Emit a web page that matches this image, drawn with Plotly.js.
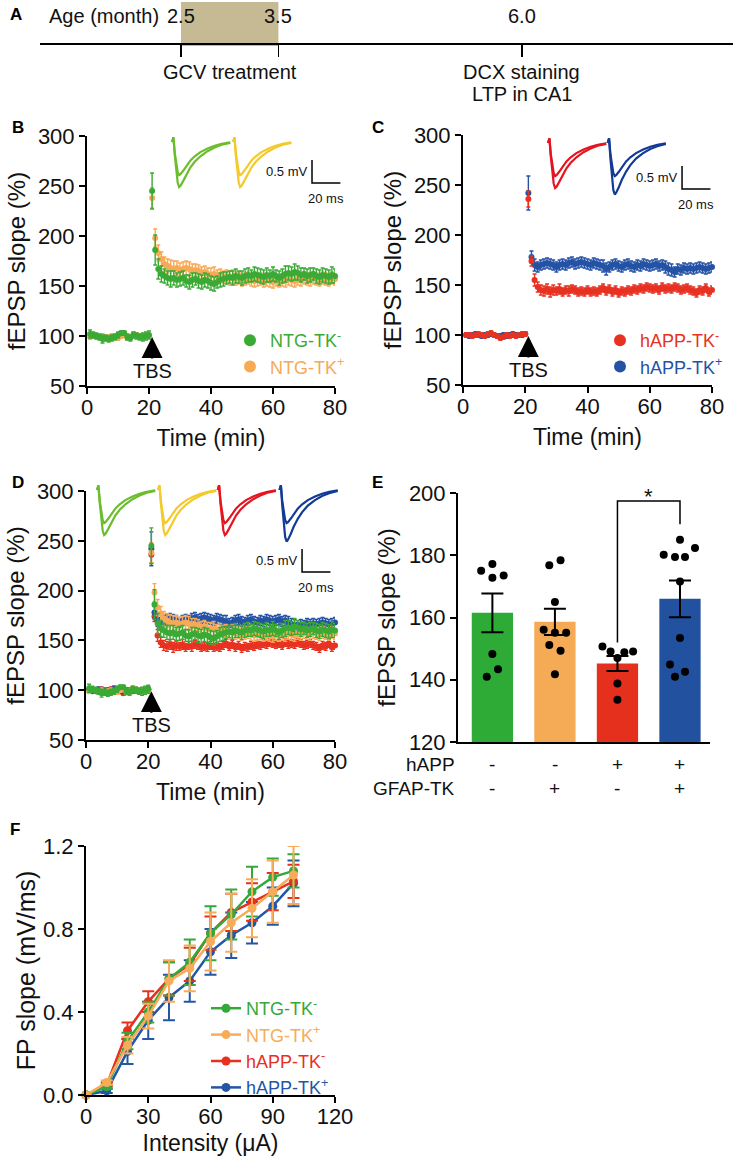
<!DOCTYPE html>
<html>
<head>
<meta charset="utf-8">
<script src="https://cdn.plot.ly/plotly-3.0.1.min.js"></script>
<style>
  html, body { margin: 0; padding: 0; background: #fff; }
  #fig { width: 733px; height: 1161px; }
</style>
</head>
<body>
<div id="fig"></div>
<script>
// ---- data ----
// A: timeline (months)
var ages = [2.5, 3.5, 6.0];
var ageLabels = ['2.5', '3.5', '6.0'];

// B-D: LTP time course, fEPSP slope (% of baseline)
var baseTime = [1, 2, 3, 4, 5, 6, 7, 8, 9, 10, 11, 12, 13, 14, 15, 16, 17, 18, 19, 20];
var postTime = [21, 22, 23, 24, 25, 26, 27, 28, 29, 30, 31, 32, 33, 34, 35, 36, 37, 38, 39, 40,
                41, 42, 43, 44, 45, 46, 47, 48, 49, 50, 51, 52, 53, 54, 55, 56, 57, 58, 59, 60,
                61, 62, 63, 64, 65, 66, 67, 68, 69, 70, 71, 72, 73, 74, 75, 76, 77, 78, 79, 80];

var ntgMinusBase = [102, 101, 100, 99, 97, 98, 97, 98, 99, 101, 103, 103, 99, 98, 101, 100, 99, 99, 100, 101];
var ntgMinusPost = [245, 186, 167, 162, 160, 158, 157, 158, 156, 157, 158, 155, 154, 156, 157, 155, 154, 156, 155, 153,
                    152, 154, 156, 157, 158, 159, 158, 160, 159, 158, 160, 161, 160, 162, 161, 160, 159, 161, 160, 162,
                    160, 158, 160, 162, 163, 162, 164, 163, 161, 162, 160, 161, 162, 160, 159, 161, 160, 159, 161, 160];
var ntgMinusBaseErr = [4, 3, 3, 3, 4, 3, 3, 3, 3, 3, 2, 2, 3, 3, 3, 3, 3, 4, 4, 4];
var ntgMinusPostErr = [18, 15, 10, 8, 7, 7, 8, 7, 7, 7, 7, 6, 7, 7, 6, 7, 7, 7, 7, 7,
                       7, 6, 7, 7, 6, 6, 7, 7, 6, 7, 7, 7, 6, 7, 7, 7, 7, 7, 6, 7,
                       6, 7, 7, 8, 7, 7, 8, 7, 7, 6, 7, 7, 6, 7, 7, 7, 7, 7, 8, 7];

var ntgPlusBase = [99, 101, 100, 99, 100, 98, 99, 100, 99, 98, 100, 101, 98, 99, 102, 101, 100, 99, 101, 100];
var ntgPlusPost = [238, 198, 183, 177, 172, 170, 168, 167, 168, 166, 167, 168, 167, 165, 166, 165, 163, 164, 162, 161,
                   162, 160, 161, 159, 160, 158, 159, 157, 158, 156, 157, 158, 156, 155, 156, 157, 155, 156, 155, 154,
                   156, 155, 156, 155, 157, 156, 155, 157, 156, 158, 157, 156, 158, 157, 156, 158, 157, 156, 158, 157];
var ntgPlusBaseErr = [2, 2, 2, 2, 2, 2, 2, 2, 2, 2, 2, 2, 2, 2, 2, 2, 2, 2, 2, 2];
var ntgPlusPostErr = [10, 9, 8, 7, 7, 7, 8, 8, 7, 7, 7, 7, 7, 7, 6, 6, 6, 6, 6, 7,
                      7, 6, 6, 6, 6, 7, 7, 6, 6, 6, 6, 6, 6, 6, 6, 6, 6, 6, 6, 6,
                      6, 6, 6, 6, 6, 6, 6, 6, 6, 6, 6, 6, 6, 6, 6, 6, 6, 6, 6, 6];

var happMinusBase = [100, 100, 99, 100, 101, 100, 99, 101, 102, 100, 99, 97, 98, 100, 99, 100, 99, 100, 101, 101];
var happMinusPost = [236, 174, 155, 148, 145, 144, 146, 143, 145, 144, 146, 143, 145, 144, 146, 145, 143, 144, 143, 145,
                     143, 144, 143, 145, 147, 144, 146, 143, 145, 142, 144, 143, 145, 144, 146, 145, 147, 146, 148, 147,
                     146, 147, 145, 148, 146, 147, 146, 148, 147, 145, 146, 147, 145, 144, 142, 145, 144, 147, 143, 145];
var happMinusBaseErr = [2, 2, 2, 2, 2, 2, 2, 2, 2, 2, 2, 2, 2, 2, 2, 2, 2, 2, 2, 2];
var happMinusPostErr = [8, 5, 6, 5, 5, 5, 5, 5, 5, 4, 5, 4, 4, 5, 4, 4, 4, 4, 4, 4,
                        4, 4, 4, 4, 4, 4, 4, 4, 4, 4, 4, 4, 4, 4, 4, 4, 4, 4, 4, 4,
                        4, 4, 4, 4, 4, 4, 4, 4, 4, 4, 4, 4, 4, 4, 4, 4, 4, 4, 4, 4];

var happPlusBase = [100, 99, 100, 101, 100, 99, 100, 100, 101, 100, 99, 99, 100, 99, 100, 101, 100, 100, 100, 101];
var happPlusPost = [242, 178, 170, 168, 170, 171, 172, 171, 170, 168, 170, 171, 170, 172, 173, 171, 172, 173, 172, 171,
                    170, 172, 171, 170, 169, 166, 168, 170, 171, 169, 168, 170, 171, 169, 168, 170, 169, 171, 170, 169,
                    170, 171, 169, 170, 168, 166, 165, 163, 166, 165, 167, 166, 167, 166, 167, 168, 167, 166, 167, 168];
var happPlusBaseErr = [2, 2, 2, 2, 2, 2, 2, 2, 2, 2, 2, 2, 2, 2, 2, 2, 2, 2, 2, 2];
var happPlusPostErr = [17, 6, 6, 5, 5, 5, 5, 5, 5, 5, 5, 5, 5, 5, 5, 5, 5, 5, 5, 5,
                       5, 5, 5, 5, 6, 6, 5, 5, 5, 5, 5, 5, 5, 5, 5, 5, 5, 5, 5, 5,
                       5, 5, 5, 5, 6, 6, 6, 5, 5, 5, 5, 5, 5, 5, 5, 5, 5, 5, 5, 5];

// example fEPSP traces (ms, mV)
var waveT = [0, 1, 2, 3, 4, 5, 6, 8, 10, 13, 16, 20, 25, 30, 35, 41];
var waveBase = [0, 0.1, -0.25, -0.5, -0.65, -0.72, -0.7, -0.62, -0.52, -0.4, -0.31, -0.22, -0.14, -0.08, -0.04, -0.01];
var waveLtp = [0, 0.1, -0.3, -0.65, -0.88, -0.98, -0.95, -0.84, -0.71, -0.55, -0.43, -0.31, -0.2, -0.12, -0.06, -0.02];
var waveLtpDeep = [0, 0.1, -0.35, -0.75, -1.02, -1.12, -1.08, -0.95, -0.8, -0.62, -0.48, -0.34, -0.22, -0.13, -0.07, -0.02];
var scaleMs = 20, scaleMv = 0.5;

// E: LTP magnitude per group
var groups = [0, 1, 2, 3];
var groupMeans = [161.5, 158.6, 145.2, 166.0];
var groupSem = [6.2, 4.2, 2.4, 5.9];
var happSigns = ['-', '-', '+', '+'];
var gfapSigns = ['-', '+', '-', '+'];
var dotsNtgMinus = [175.0, 177.2, 172.8, 173.5, 148.3, 143.4, 141.0];
var offNtgMinus = [-0.18, 0, 0, 0.18, 0, 0.09, -0.09];
var dotsNtgPlus = [176.8, 178.4, 165.0, 156.1, 155.1, 155.1, 151.2, 149.3, 141.8];
var offNtgPlus = [-0.09, 0.09, 0, -0.18, 0, 0.18, -0.09, 0.09, 0];
var dotsHappMinus = [150.7, 149.1, 147.0, 148.8, 149.1, 138.8, 133.6];
var offHappMinus = [-0.24, -0.11, 0, 0.11, 0.25, 0, 0];
var dotsHappPlus = [185.0, 180.2, 179.4, 179.4, 182.3, 171.6, 153.4, 144.9, 141.0, 142.6];
var offHappPlus = [0, -0.26, -0.08, 0.08, 0.24, 0, 0, -0.16, -0.08, 0.08];
var sigPair = [2, 3];
var sigLevels = [152, 197.4, 190];

// F: input-output curves
var intensity = [0, 10, 20, 30, 40, 50, 60, 70, 80, 90, 100];
var ioNtgMinus = [0, 0.04, 0.26, 0.40, 0.56, 0.64, 0.78, 0.87, 0.98, 1.05, 1.08];
var ioNtgMinusErr = [0, 0.01, 0.04, 0.05, 0.08, 0.11, 0.13, 0.12, 0.12, 0.09, 0.08];
var ioNtgPlus = [0, 0.06, 0.24, 0.38, 0.55, 0.61, 0.74, 0.83, 0.90, 0.98, 1.06];
var ioNtgPlusErr = [0, 0.01, 0.04, 0.06, 0.10, 0.11, 0.14, 0.14, 0.14, 0.15, 0.14];
var ioHappMinus = [0, 0.05, 0.31, 0.45, 0.56, 0.63, 0.78, 0.88, 0.93, 0.98, 1.03];
var ioHappMinusErr = [0, 0.01, 0.04, 0.05, 0.08, 0.08, 0.08, 0.09, 0.09, 0.09, 0.08];
var ioHappPlus = [0, 0.02, 0.21, 0.36, 0.47, 0.55, 0.69, 0.77, 0.83, 0.91, 1.02];
var ioHappPlusErr = [0, 0.01, 0.06, 0.09, 0.11, 0.10, 0.11, 0.11, 0.10, 0.09, 0.11];

// ---- drawing ----
var W = 733, H = 1161;
var FONT = 'Liberation Sans, Arial, Helvetica, sans-serif';
function fx(p) { return p / W; }
function fy(p) { return 1 - p / H; }
function dx(a, b) { return [fx(a), fx(b)]; }
function dy(top, bot) { return [fy(bot), fy(top)]; }

var colTime = { ntgMinus: '#3aaa35', ntgPlus: '#f8a955', happMinus: '#e73222', happPlus: '#2452a5' };
var colBar = ['#2eaa37', '#f5aa55', '#e4301c', '#2251a0'];
var colWave = { green: '#6bbd2c', yellow: '#f4c92a', red: '#e5141f', blue: '#133b96' };

function label(txt, color) {
  return '<span style="color:' + color + '">' + txt + '</span>';
}

var data = [];

function timeSeries(xa, ya, base, post, baseErr, postErr, color, name, legend, rank) {
  data.push({
    type: 'scatter', mode: 'markers',
    x: baseTime.concat(postTime), y: base.concat(post),
    error_y: { type: 'data', array: baseErr.concat(postErr), color: color, thickness: 1.4, width: 2 },
    marker: { color: color, size: 6 },
    xaxis: xa, yaxis: ya, cliponaxis: false,
    name: name ? label(name, color) : '',
    showlegend: !!legend, legend: legend || 'legend', legendrank: rank || 1000,
    hoverinfo: 'x+y'
  });
}

// B
timeSeries('x2', 'y2', ntgPlusBase, ntgPlusPost, ntgPlusBaseErr, ntgPlusPostErr, colTime.ntgPlus, 'NTG-TK<sup>+</sup>', 'legend', 2);
timeSeries('x2', 'y2', ntgMinusBase, ntgMinusPost, ntgMinusBaseErr, ntgMinusPostErr, colTime.ntgMinus, 'NTG-TK<sup>-</sup>', 'legend', 1);
// C
timeSeries('x3', 'y3', happPlusBase, happPlusPost, happPlusBaseErr, happPlusPostErr, colTime.happPlus, 'hAPP-TK<sup>+</sup>', 'legend2', 2);
timeSeries('x3', 'y3', happMinusBase, happMinusPost, happMinusBaseErr, happMinusPostErr, colTime.happMinus, 'hAPP-TK<sup>-</sup>', 'legend2', 1);
// D
timeSeries('x4', 'y4', happMinusBase, happMinusPost, happMinusBaseErr, happMinusPostErr, colTime.happMinus);
timeSeries('x4', 'y4', happPlusBase, happPlusPost, happPlusBaseErr, happPlusPostErr, colTime.happPlus);
timeSeries('x4', 'y4', ntgPlusBase, ntgPlusPost, ntgPlusBaseErr, ntgPlusPostErr, colTime.ntgPlus);
timeSeries('x4', 'y4', ntgMinusBase, ntgMinusPost, ntgMinusBaseErr, ntgMinusPostErr, colTime.ntgMinus);

// example traces in the insets
function wave(xa, ya, shift, color, deep) {
  [waveBase, deep || waveLtp].forEach(function (v) {
    data.push({
      type: 'scatter', mode: 'lines', x: waveT.map(function (t) { return t + shift; }), y: v,
      line: { color: color, width: 2.2 }, xaxis: xa, yaxis: ya, showlegend: false, hoverinfo: 'skip'
    });
  });
}
function scaleBar(xa, ya, t, v) {
  data.push({
    type: 'scatter', mode: 'lines', x: [t, t, t + scaleMs], y: [v, v - scaleMv, v - scaleMv],
    line: { color: '#000', width: 1.5 }, xaxis: xa, yaxis: ya, showlegend: false, hoverinfo: 'skip'
  });
}
wave('x7', 'y7', 0, colWave.green);
wave('x7', 'y7', 43, colWave.yellow);
scaleBar('x7', 'y7', 98.6, -0.39);
wave('x8', 'y8', 0, colWave.red);
wave('x8', 'y8', 42, colWave.blue, waveLtpDeep);
scaleBar('x8', 'y8', 94.4, -0.5);
wave('x9', 'y9', 0, colWave.green);
wave('x9', 'y9', 43, colWave.yellow);
wave('x9', 'y9', 85, colWave.red);
wave('x9', 'y9', 128.5, colWave.blue, waveLtpDeep);
scaleBar('x9', 'y9', 144.4, -1.28);

// E
data.push({
  type: 'bar', x: groups, y: groupMeans, width: 0.66,
  marker: { color: colBar, line: { width: 0 } },
  error_y: { type: 'data', array: groupSem, color: '#000', thickness: 2, width: 11 },
  xaxis: 'x5', yaxis: 'y5', showlegend: false
});
var dotX = [], dotY = [];
[[dotsNtgMinus, offNtgMinus], [dotsNtgPlus, offNtgPlus], [dotsHappMinus, offHappMinus], [dotsHappPlus, offHappPlus]]
  .forEach(function (g, i) {
    g[0].forEach(function (v, j) { dotX.push(groups[i] + g[1][j]); dotY.push(v); });
  });
data.push({
  type: 'scatter', mode: 'markers', x: dotX, y: dotY,
  marker: { color: '#000', size: 8 }, xaxis: 'x5', yaxis: 'y5', showlegend: false, cliponaxis: false
});
data.push({
  type: 'scatter', mode: 'lines',
  x: [sigPair[0], sigPair[0], sigPair[1], sigPair[1]],
  y: [sigLevels[0], sigLevels[1], sigLevels[1], sigLevels[2]],
  line: { color: '#000', width: 1.5 }, xaxis: 'x5', yaxis: 'y5', showlegend: false, hoverinfo: 'skip', cliponaxis: false
});

// F
function ioSeries(y, err, color, name, rank) {
  data.push({
    type: 'scatter', mode: 'lines+markers', x: intensity, y: y,
    error_y: { type: 'data', array: err, color: color, thickness: 2, width: 6 },
    line: { color: color, width: 2.5 }, marker: { color: color, size: 9 },
    xaxis: 'x6', yaxis: 'y6', cliponaxis: false,
    name: label(name, color), legend: 'legend3', legendrank: rank
  });
}
ioSeries(ioHappPlus, ioHappPlusErr, '#2356a6', 'hAPP-TK<sup>+</sup>', 4);
ioSeries(ioHappMinus, ioHappMinusErr, '#e8301f', 'hAPP-TK<sup>-</sup>', 3);
ioSeries(ioNtgMinus, ioNtgMinusErr, '#34a93a', 'NTG-TK<sup>-</sup>', 1);
ioSeries(ioNtgPlus, ioNtgPlusErr, '#f7ac5a', 'NTG-TK<sup>+</sup>', 2);

// ---- axes ----
function ax(extra) {
  var base = {
    showline: true, linecolor: '#000', linewidth: 2, ticks: 'outside', ticklen: 6, tickwidth: 2,
    tickcolor: '#000', showgrid: false, zeroline: false, fixedrange: true,
    tickfont: { family: FONT, size: 22, color: '#111' }
  };
  for (var k in extra) base[k] = extra[k];
  return base;
}
function ttl(text, standoff, size) {
  return { text: text, font: { family: FONT, size: size || 24, color: '#111' }, standoff: standoff };
}
var SX = 1.42, SY = 46; // inset px per ms / per mV
function insetX(ox, t0, t1, anchor) {
  return { domain: dx(ox + t0 * SX, ox + t1 * SX), range: [t0, t1], visible: false, anchor: anchor, fixedrange: true };
}
function insetY(oy, v0, v1, anchor) {
  return { domain: dy(oy - v1 * SY, oy - v0 * SY), range: [v0, v1], visible: false, anchor: anchor, fixedrange: true };
}

var timeTicks = [0, 20, 40, 60, 80];
var ageMin = 2.5 - (181 - 40) / 97.4, ageMax = 2.5 + (733 - 181) / 97.4;

var layout = {
  width: W, height: H, margin: { l: 0, r: 0, t: 0, b: 0 },
  paper_bgcolor: '#fff', plot_bgcolor: 'rgba(0,0,0,0)',
  font: { family: FONT, color: '#111' },
  hovermode: false,
  xaxis: ax({ domain: dx(40, 733), range: [ageMin, ageMax], anchor: 'y', tickvals: ages,
              showticklabels: false, ticklen: 12, tickwidth: 1.5, linewidth: 1.5 }),
  yaxis: { domain: dy(2, 43), range: [0, 1], visible: false, anchor: 'x', fixedrange: true },

  xaxis2: ax({ domain: dx(87, 335), range: [0, 80], tickvals: timeTicks, anchor: 'y2', ticklabelstandoff: -5, title: ttl('Time (min)', 10, 23) }),
  yaxis2: ax({ domain: dy(136, 386), range: [50, 300], dtick: 50, anchor: 'x2', title: ttl('fEPSP slope (%)', 5) }),
  xaxis3: ax({ domain: dx(463, 712), range: [0, 80], tickvals: timeTicks, anchor: 'y3', ticklabelstandoff: -5, title: ttl('Time (min)', 10, 23) }),
  yaxis3: ax({ domain: dy(135, 385), range: [50, 300], dtick: 50, anchor: 'x3', title: ttl('fEPSP slope (%)', 5) }),
  xaxis4: ax({ domain: dx(86, 335), range: [0, 80], tickvals: timeTicks, anchor: 'y4', ticklabelstandoff: -5, title: ttl('Time (min)', 10, 23) }),
  yaxis4: ax({ domain: dy(491, 740), range: [50, 300], dtick: 50, anchor: 'x4', title: ttl('fEPSP slope (%)', 5) }),
  xaxis5: ax({ domain: dx(458, 710), range: [-0.55, 3.48], anchor: 'y5', ticks: '', showticklabels: false }),
  yaxis5: ax({ domain: dy(493, 742), range: [120, 200], dtick: 20, anchor: 'x5', title: ttl('fEPSP slope (%)', 6) }),
  xaxis6: ax({ domain: dx(86, 335), range: [0, 120], dtick: 30, anchor: 'y6', ticklabelstandoff: -5, title: ttl('Intensity (\u03bcA)', 6, 23) }),
  yaxis6: ax({ domain: dy(846, 1095), range: [0, 1.2], dtick: 0.4, tickformat: '.1f', anchor: 'x6', title: ttl('FP slope (mV/ms)', 0, 25) }),

  xaxis7: insetX(172, -5, 125, 'y7'), yaxis7: insetY(142, -1.3, 0.15, 'x7'),
  xaxis8: insetX(548, -5, 125, 'y8'), yaxis8: insetY(143, -1.45, 0.15, 'x8'),
  xaxis9: insetX(97, -5, 170, 'y9'), yaxis9: insetY(490, -2.3, 0.15, 'x9'),

  legend: { x: fx(230), y: fy(322), xanchor: 'left', yanchor: 'top', bgcolor: 'rgba(0,0,0,0)',
            font: { family: FONT, size: 18 }, itemwidth: 30, tracegroupgap: 0, itemsizing: 'constant' },
  legend2: { x: fx(600), y: fy(322), xanchor: 'left', yanchor: 'top', bgcolor: 'rgba(0,0,0,0)',
             font: { family: FONT, size: 18 }, itemwidth: 30, tracegroupgap: 0, itemsizing: 'constant' },
  legend3: { x: fx(206), y: fy(990), xanchor: 'left', yanchor: 'top', bgcolor: 'rgba(0,0,0,0)',
             font: { family: FONT, size: 18 }, itemwidth: 30, tracegroupgap: 0 },

  shapes: [
    { type: 'rect', xref: 'x', yref: 'paper', x0: ages[0], x1: ages[1], y0: fy(46), y1: fy(2),
      fillcolor: '#c5ba93', line: { width: 0 }, layer: 'below' }
  ],
  annotations: []
};

var ann = layout.annotations;
function text(t, x, y, opts) {
  var a = { text: t, x: x, y: y, xref: 'paper', yref: 'paper', showarrow: false,
            xanchor: 'center', yanchor: 'middle',
            font: { family: FONT, size: 20, color: '#111' } };
  for (var k in opts) a[k] = opts[k];
  ann.push(a);
}

// panel letters
[['A', 8, 15], ['B', 10, 128], ['C', 370, 128], ['D', 10, 482], ['E', 370, 482], ['F', 8, 830]].forEach(function (p) {
  text('<b>' + p[0] + '</b>', fx(p[1]), fy(p[2]), { xanchor: 'left', font: { family: FONT, size: 17, color: '#000' } });
});

// A labels
text('Age (month)', fx(161), fy(16), { xanchor: 'right' });
ages.forEach(function (a, i) { text(ageLabels[i], a, fy(16), { xref: 'x' }); });
text('GCV treatment', (ages[0] + ages[1]) / 2, fy(72), { xref: 'x' });
text('DCX staining', ages[2], fy(72), { xref: 'x' });
text('LTP in CA1', ages[2], fy(94), { xref: 'x' });

// TBS arrows
[['x2', 'y2'], ['x3', 'y3'], ['x4', 'y4']].forEach(function (p) {
  ann.push({ text: 'TBS', x: 21, y: 99, xref: p[0], yref: p[1], showarrow: true, ax: 0, ay: 34,
             arrowhead: 2, arrowsize: 1.9, arrowwidth: 2.2, arrowcolor: '#000', standoff: 0,
             font: { family: FONT, size: 20, color: '#111' } });
});

// inset scale-bar labels
function sbLabels(xa, ya, t, v) {
  ann.push({ text: '0.5 mV', x: t - 1.5, y: v - scaleMv / 2, xref: xa, yref: ya, xanchor: 'right', yanchor: 'middle',
             showarrow: false, font: { family: FONT, size: 13, color: '#111' } });
  ann.push({ text: '20 ms', x: t + scaleMs / 2, y: v - scaleMv - 0.33, xref: xa, yref: ya, xanchor: 'center', yanchor: 'middle',
             showarrow: false, font: { family: FONT, size: 13, color: '#111' } });
}
sbLabels('x7', 'y7', 98.6, -0.39);
sbLabels('x8', 'y8', 94.4, -0.5);
sbLabels('x9', 'y9', 144.4, -1.28);

// E labels
text('hAPP', fx(457), fy(765), { xanchor: 'right', font: { family: FONT, size: 19, color: '#111' } });
text('GFAP-TK', fx(457), fy(788), { xanchor: 'right', font: { family: FONT, size: 19, color: '#111' } });
groups.forEach(function (g, i) {
  text(happSigns[i], g, fy(765), { xref: 'x5', font: { family: FONT, size: 19, color: '#111' } });
  text(gfapSigns[i], g, fy(788), { xref: 'x5', font: { family: FONT, size: 19, color: '#111' } });
});
ann.push({ text: '*', x: (sigPair[0] + sigPair[1]) / 2, y: 199, xref: 'x5', yref: 'y5', showarrow: false,
           xanchor: 'center', yanchor: 'middle', font: { family: FONT, size: 22, color: '#111' } });

Plotly.newPlot('fig', data, layout, { displayModeBar: false, staticPlot: true });
</script>
</body>
</html>
